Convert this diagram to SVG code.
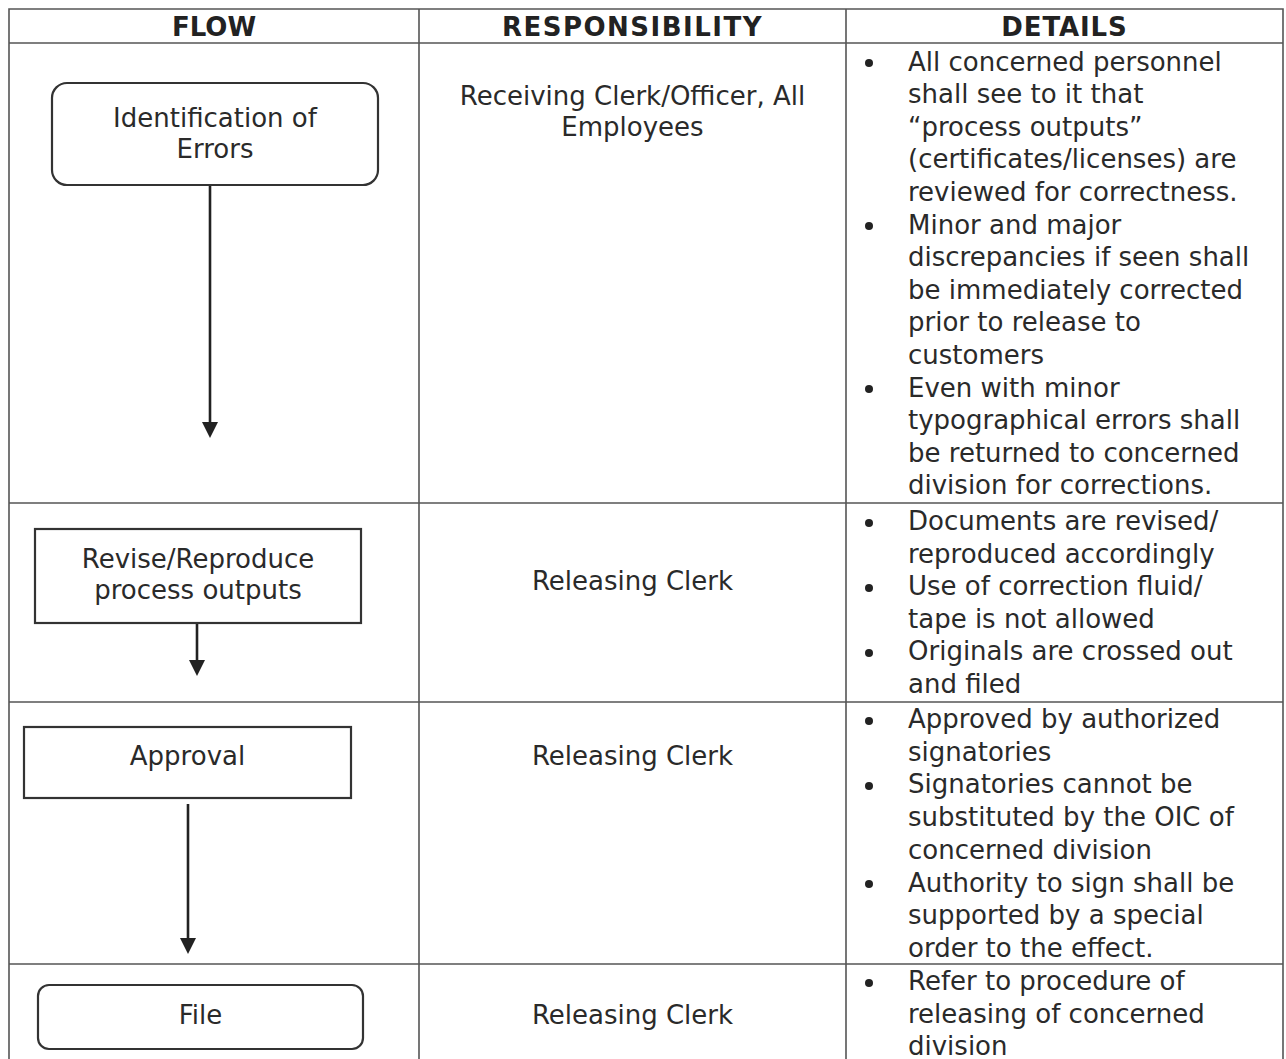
<svg xmlns="http://www.w3.org/2000/svg" width="1286" height="1059" viewBox="0 0 1286 1059">
<defs>
<style>
.grid{stroke:#555;stroke-width:1.6;fill:none}
.box{fill:#fff;stroke:#333;stroke-width:2.2}
.t{font-family:"DejaVu Sans",Verdana,sans-serif;font-size:26px;fill:#2a2a2a}
.c{text-anchor:middle}
.h{font-weight:bold;fill:#222}
.conn{stroke:#222;stroke-width:2.6;fill:none}
.bul{fill:#222}
</style>
</defs>
<rect width="1286" height="1059" fill="#fff"/>
<g id="table">
<path class="grid" d="M9,1062 V9 H1283 V1062 M419,9 V1062 M846,9 V1062 M9,43 H1283 M9,503 H1283 M9,702 H1283 M9,964 H1283"/>
<text class="t c h" x="214" y="36">FLOW</text>
<text class="t c h" x="632.5" y="36" letter-spacing="1.5">RESPONSIBILITY</text>
<text class="t c h" x="1064.5" y="36" letter-spacing="0.9">DETAILS</text>
</g>
<g id="connectors">
<line class="conn" x1="210" y1="186" x2="210" y2="423"/>
<path d="M202,422 L218,422 L210,438 Z" fill="#222"/>
<line class="conn" x1="197" y1="624" x2="197" y2="661"/>
<path d="M189,660 L205,660 L197,676 Z" fill="#222"/>
<line class="conn" x1="188" y1="804" x2="188" y2="939"/>
<path d="M180,938 L196,938 L188,954 Z" fill="#222"/>
</g>
<g id="node-identification">
<rect class="box" x="52" y="83" width="326" height="102" rx="15"/>
<text class="t c" x="215" y="127">Identification of</text>
<text class="t c" x="215" y="158">Errors</text>
</g>
<g id="node-revise">
<rect class="box" x="35" y="529" width="326" height="94"/>
<text class="t c" x="198" y="568">Revise/Reproduce</text>
<text class="t c" x="198" y="599">process outputs</text>
</g>
<g id="node-approval">
<rect class="box" x="24" y="727" width="327" height="71"/>
<text class="t c" x="187.5" y="765">Approval</text>
</g>
<g id="node-file">
<rect class="box" x="38" y="985" width="325" height="64" rx="11"/>
<text class="t c" x="200.5" y="1024">File</text>
</g>
<g id="responsibility">
<text class="t c" x="632.5" y="105">Receiving Clerk/Officer, All</text>
<text class="t c" x="632.5" y="136">Employees</text>
<text class="t c" x="632.5" y="590">Releasing Clerk</text>
<text class="t c" x="632.5" y="765">Releasing Clerk</text>
<text class="t c" x="632.5" y="1024">Releasing Clerk</text>
</g>
<g id="details">
<circle class="bul" cx="869" cy="63" r="4"/>
<circle class="bul" cx="869" cy="226" r="4"/>
<circle class="bul" cx="869" cy="389" r="4"/>
<text class="t" x="908" y="70.5">All concerned personnel</text>
<text class="t" x="908" y="103.1">shall see to it that</text>
<text class="t" x="908" y="135.7">“process outputs”</text>
<text class="t" x="908" y="168.3">(certificates/licenses) are</text>
<text class="t" x="908" y="200.9">reviewed for correctness.</text>
<text class="t" x="908" y="233.5">Minor and major</text>
<text class="t" x="908" y="266.1">discrepancies if seen shall</text>
<text class="t" x="908" y="298.7">be immediately corrected</text>
<text class="t" x="908" y="331.3">prior to release to</text>
<text class="t" x="908" y="363.9">customers</text>
<text class="t" x="908" y="396.5">Even with minor</text>
<text class="t" x="908" y="429.1">typographical errors shall</text>
<text class="t" x="908" y="461.7">be returned to concerned</text>
<text class="t" x="908" y="494.3">division for corrections.</text>
<circle class="bul" cx="869" cy="523" r="4"/>
<circle class="bul" cx="869" cy="588" r="4"/>
<circle class="bul" cx="869" cy="653" r="4"/>
<text class="t" x="908" y="530">Documents are revised/</text>
<text class="t" x="908" y="562.6">reproduced accordingly</text>
<text class="t" x="908" y="595.2">Use of correction fluid/</text>
<text class="t" x="908" y="627.8">tape is not allowed</text>
<text class="t" x="908" y="660.4">Originals are crossed out</text>
<text class="t" x="908" y="693">and filed</text>
<circle class="bul" cx="869" cy="721" r="4"/>
<circle class="bul" cx="869" cy="786" r="4"/>
<circle class="bul" cx="869" cy="884" r="4"/>
<text class="t" x="908" y="728">Approved by authorized</text>
<text class="t" x="908" y="760.7">signatories</text>
<text class="t" x="908" y="793.4">Signatories cannot be</text>
<text class="t" x="908" y="826.1">substituted by the OIC of</text>
<text class="t" x="908" y="858.8">concerned division</text>
<text class="t" x="908" y="891.5">Authority to sign shall be</text>
<text class="t" x="908" y="924.2">supported by a special</text>
<text class="t" x="908" y="956.9">order to the effect.</text>
<circle class="bul" cx="869" cy="983" r="4"/>
<text class="t" x="908" y="990">Refer to procedure of</text>
<text class="t" x="908" y="1022.6">releasing of concerned</text>
<text class="t" x="908" y="1055.2">division</text>
</g>
</svg>
